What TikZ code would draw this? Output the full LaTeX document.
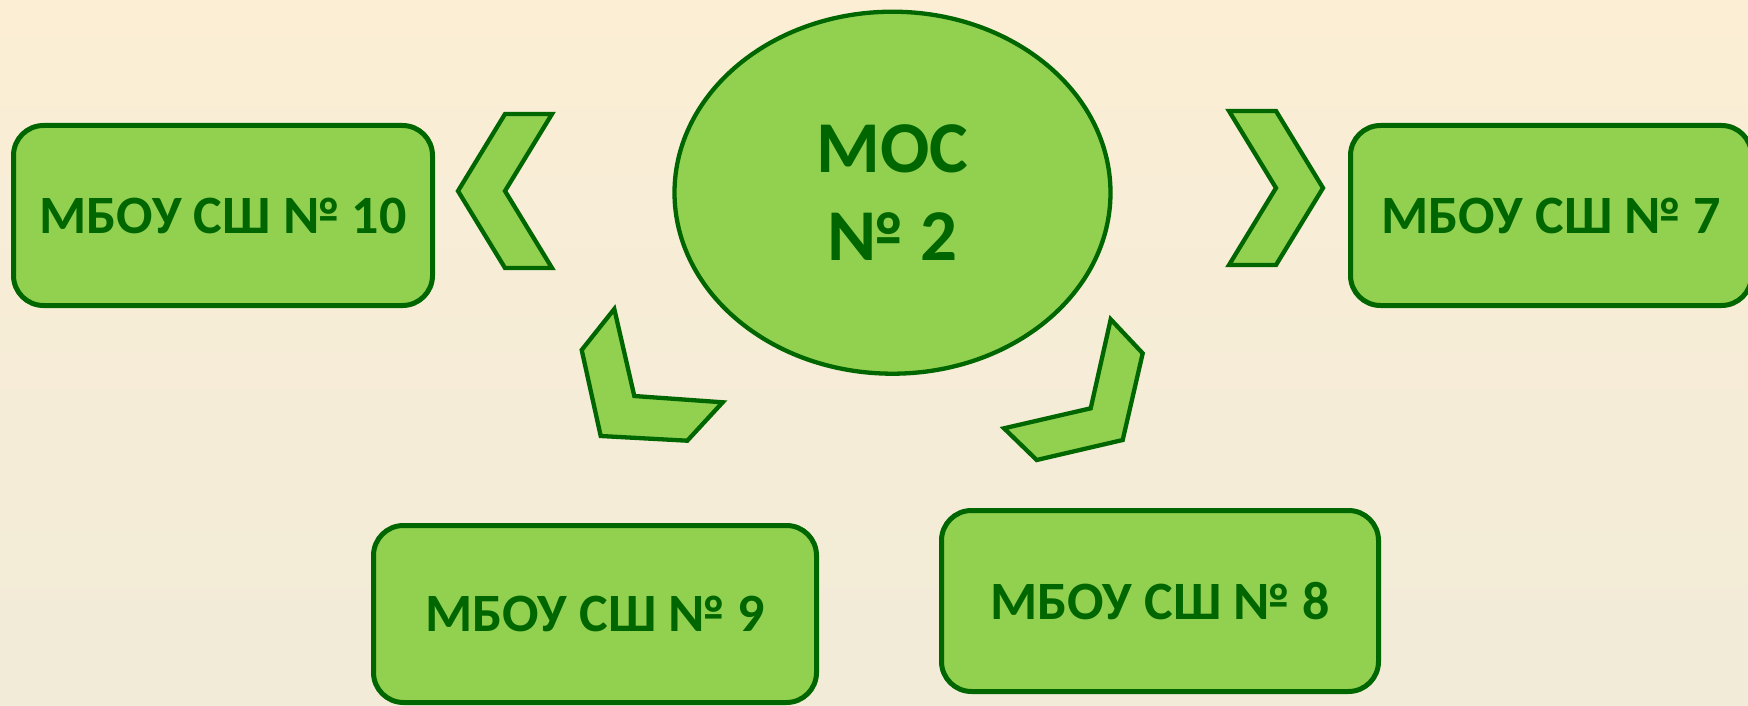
\documentclass[tikz,border=0pt]{standalone}
\usepackage{fontspec}
\setmainfont{Carlito}
\usetikzlibrary{shapes.geometric}
\definecolor{bgtop}{RGB}{251,238,213}
\definecolor{bgbot}{RGB}{241,235,216}
\definecolor{leaf}{RGB}{146,208,80}
\definecolor{dgreen}{RGB}{0,102,0}
\begin{document}
\begin{tikzpicture}[x=1pt,y=-1pt,
  box/.style={draw=dgreen, line width=5pt, fill=leaf, rounded corners=30pt,
    text=dgreen, font=\fontsize{54}{64}\selectfont\bfseries, inner sep=0pt},
  hub/.style={ellipse, draw=dgreen, line width=4.3pt, fill=leaf, text=dgreen,
    font=\fontsize{73}{88}\selectfont\bfseries, align=center, inner sep=0pt,
    minimum width=436pt, minimum height=362pt},
  chev/.style={draw=dgreen, line width=4.3pt, fill=leaf, line join=miter}]
\shade[top color=bgtop, bottom color=bgbot] (0,0) rectangle (1748,706);
\useasboundingbox (0,0) rectangle (1748,706);

\node[hub] (hub) at (892.5,192.7) {МОС\\№ 2};

\node[box, minimum width=419pt, minimum height=180pt] (s10) at (223,215.5) {МБОУ СШ № 10};
\node[box, minimum width=401pt, minimum height=180pt] (s7) at (1551,215.5) {МБОУ СШ № 7};
\node[box, minimum width=443pt, minimum height=177pt] (s9) at (595,614) {МБОУ СШ № 9};
\node[box, minimum width=437pt, minimum height=181pt] (s8) at (1160,601) {МБОУ СШ № 8};

% chevron arrows
\draw[chev] (458,191) -- (505,114) -- (552,114) -- (505,191) -- (552,268) -- (505,268) -- cycle;
\draw[chev] (1229,111) -- (1276,111) -- (1323,188) -- (1276,265) -- (1229,265) -- (1276,188) -- cycle;
\draw[chev] (614.3,309) -- (634.3,396) -- (722.7,402.3) -- (687.3,440.7) -- (600.7,436) -- (581.7,350) -- cycle;
\draw[chev] (1110.7,319.3) -- (1142.7,353.3) -- (1122.7,440) -- (1036.7,460) -- (1004,428.3) -- (1090.7,408.3) -- cycle;
\end{tikzpicture}
\end{document}
